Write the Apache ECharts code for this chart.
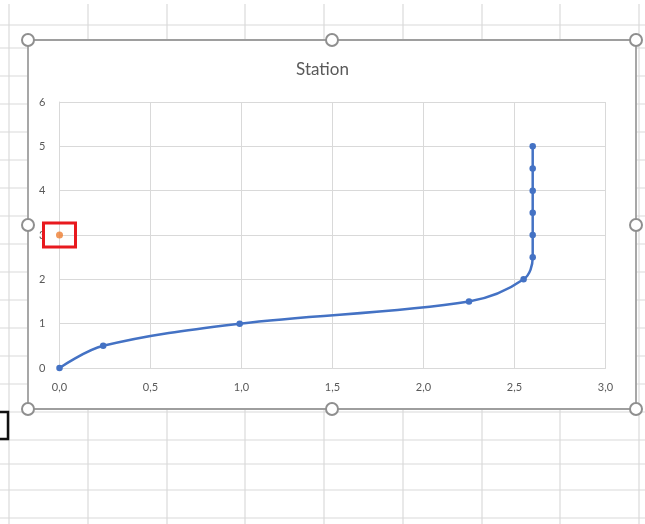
<!DOCTYPE html>
<html>
<head>
<meta charset="utf-8">
<script src="https://cdn.jsdelivr.net/npm/echarts@6/dist/echarts.min.js"></script>
<style>
html,body{margin:0;padding:0;background:#fff;}
#c{width:645px;height:524px;}
</style>
</head>
<body>
<div id="c"></div>
<script>
// ---- data ----
const stationX = [0, 0.24, 0.99, 2.25, 2.55, 2.6, 2.6, 2.6, 2.6, 2.6, 2.6];
const stationY = [0, 0.5, 1, 1.5, 2, 2.5, 3, 3.5, 4, 4.5, 5];
const markerX = [0];
const markerY = [3];
const xTicks = [0, 0.5, 1, 1.5, 2, 2.5, 3];
const yTicks = [0, 1, 2, 3, 4, 5, 6];
const chartTitle = 'Station';

// ---- spreadsheet backdrop ----
const colLines = [9, 88, 167, 245, 324, 403, 482, 560, 639];
const rowLines = [25, 48, 76, 104, 132, 160, 188, 216, 244, 272, 300, 328, 356, 384, 412, 440, 464, 490, 518];
const sheetColor = '#dadada';

const chart = echarts.init(document.getElementById('c'));
const FONT = 'Lato, "Liberation Sans", sans-serif';

const gfx = [];
colLines.forEach(x => gfx.push({type:'line', silent:true, z:-10, shape:{x1:x, y1:4, x2:x, y2:524}, style:{stroke:sheetColor, lineWidth:1.2}}));
rowLines.forEach(y => gfx.push({type:'line', silent:true, z:-10, shape:{x1:0, y1:y, x2:645, y2:y}, style:{stroke:sheetColor, lineWidth:1.2}}));
// chart area frame
gfx.push({type:'rect', silent:true, z:-5, shape:{x:28, y:40, width:608, height:369}, style:{fill:'#fff', stroke:'#9e9e9e', lineWidth:1.8}});
// active cell outline
gfx.push({type:'rect', silent:true, z:-4, shape:{x:-6, y:412, width:14, height:27}, style:{fill:null, stroke:'#111', lineWidth:2.5}});
// handles
const handles = [[28,40],[332,40],[636,40],[28,225],[636,225],[28,409],[332,409],[636,409]];
handles.forEach(h => gfx.push({type:'circle', silent:true, z:50, shape:{cx:h[0], cy:h[1], r:6}, style:{fill:'#fff', stroke:'#8f8f8f', lineWidth:2}}));

const fmt = v => v.toFixed(1).replace('.', ',');

chart.setOption({
  backgroundColor: '#fff',
  animation: false,
  title: {
    text: chartTitle, left: 'center', top: 56,
    textStyle: {fontFamily: FONT, fontSize: 17, fontWeight: 'normal', color: '#595959'}
  },
  grid: {left: 59.5, right: 39.5, top: 102, bottom: 156, containLabel: false},
  xAxis: {
    type: 'value', min: xTicks[0], max: xTicks[xTicks.length-1], interval: 0.5,
    axisLine: {show: true, onZero: false, lineStyle: {color: '#d9d9d9', width: 1}},
    axisTick: {show: false},
    splitLine: {show: true, lineStyle: {color: '#d9d9d9', width: 1}},
    axisLabel: {formatter: fmt, color: '#595959', fontFamily: FONT, fontSize: 11, margin: 14}
  },
  yAxis: {
    type: 'value', min: yTicks[0], max: yTicks[yTicks.length-1], interval: 1,
    axisLine: {show: true, onZero: false, lineStyle: {color: '#d9d9d9', width: 1}},
    axisTick: {show: false},
    splitLine: {show: true, lineStyle: {color: '#d9d9d9', width: 1}},
    axisLabel: {color: '#595959', fontFamily: FONT, fontSize: 11, margin: 14}
  },
  series: [
    {
      type: 'line', smooth: 0.35,
      data: stationX.map((x, i) => [x, stationY[i]]),
      symbol: 'circle', symbolSize: 6.5,
      lineStyle: {color: '#4472C4', width: 2.5},
      itemStyle: {color: '#4472C4'},
      z: 3
    },
    {
      type: 'scatter',
      data: markerX.map((x, i) => [x, markerY[i]]),
      symbol: 'circle', symbolSize: 7,
      itemStyle: {color: '#ED7D31'},
      z: 4
    }
  ],
  graphic: gfx
});

// selection box around the orange point, positioned from data
const p = chart.convertToPixel({gridIndex: 0}, [markerX[0], markerY[0]]);
gfx.push({type:'rect', silent:true, z:60, shape:{x:p[0]-16, y:p[1]-12, width:32, height:24}, style:{fill:null, stroke:'#e8191e', lineWidth:3}});
chart.setOption({graphic: gfx}, {replaceMerge: ['graphic']});
</script>
</body>
</html>
